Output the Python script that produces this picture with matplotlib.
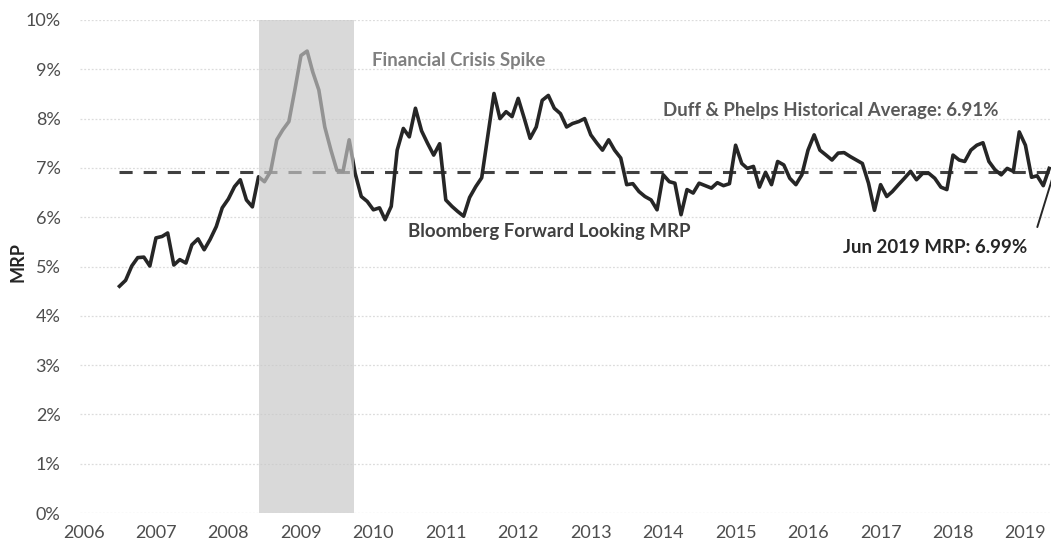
import numpy as np
import pandas as pd
import matplotlib
matplotlib.use("Agg")
import matplotlib.pyplot as plt
from matplotlib.ticker import FuncFormatter
import matplotlib.dates as mdates

# Bloomberg forward looking MRP (%), monthly from Jul 2006
mrp = [
    4.60, 4.72, 5.01, 5.18, 5.19, 5.01, 5.58, 5.61, 5.68, 5.03,
    5.14, 5.07, 5.44, 5.56, 5.34, 5.55, 5.81, 6.19, 6.37, 6.62,
    6.76, 6.35, 6.21, 6.82, 6.72, 6.93, 7.57, 7.77, 7.94, 8.58,
    9.28, 9.37, 8.95, 8.58, 7.83, 7.36, 6.95, 6.93, 7.57, 6.89,
    6.42, 6.32, 6.15, 6.19, 5.95, 6.22, 7.36, 7.80, 7.63, 8.21,
    7.75, 7.50, 7.26, 7.49, 6.35, 6.22, 6.12, 6.02, 6.40, 6.62,
    6.80, 7.65, 8.51, 8.00, 8.14, 8.04, 8.41, 8.00, 7.60, 7.83,
    8.37, 8.47, 8.21, 8.10, 7.83, 7.90, 7.94, 8.00, 7.67, 7.50,
    7.36, 7.57, 7.36, 7.20, 6.66, 6.68, 6.52, 6.42, 6.35, 6.15,
    6.86, 6.72, 6.69, 6.05, 6.56, 6.49, 6.69, 6.64, 6.59, 6.70,
    6.64, 6.68, 7.46, 7.09, 6.99, 7.03, 6.61, 6.91, 6.66, 7.13,
    7.06, 6.79, 6.66, 6.86, 7.36, 7.67, 7.36, 7.26, 7.16, 7.30,
    7.31, 7.23, 7.16, 7.09, 6.69, 6.14, 6.66, 6.42, 6.52, 6.66,
    6.79, 6.93, 6.76, 6.89, 6.89, 6.79, 6.61, 6.56, 7.26, 7.16,
    7.13, 7.36, 7.46, 7.51, 7.13, 6.96, 6.86, 6.99, 6.93, 7.73,
    7.46, 6.81, 6.84, 6.64, 6.99,
]
start_month = "2006-07-01"
dp_average = 6.91
latest_mrp = 6.99
latest_label = "Jun 2019"
crisis_window = ("2008-06-03", "2009-09-26")
y_ticks = list(range(0, 11))
years = list(range(2006, 2020))

dates = pd.date_range(start_month, periods=len(mrp), freq="MS")

plt.rcParams["font.family"] = ["Lato", "DejaVu Sans"]

fig = plt.figure(figsize=(10.51, 5.49), dpi=100)
ax = fig.add_axes([80 / 1051, 1 - 513 / 549, 971 / 1051, 493 / 549])

# MRP series and the long-run average
ax.plot(dates, mrp, color="#262626", lw=2.6, solid_joinstyle="round", zorder=3)
ax.hlines(dp_average, dates[0], dates[-1], colors="#404040", lw=2.2,
          linestyles=[(0, (4.3, 3.6))], zorder=2)

# Financial crisis window drawn as a wash over everything beneath it
ax.axvspan(pd.Timestamp(crisis_window[0]), pd.Timestamp(crisis_window[1]),
           color="#c8c8c8", alpha=0.68, lw=0, zorder=4)

ax.set_xlim(pd.Timestamp("2005-12-14"), pd.Timestamp("2019-05-10"))
ax.set_ylim(0, 10)
ax.set_yticks(y_ticks)
ax.yaxis.set_major_formatter(FuncFormatter(lambda v, _: f"{v:.0f}%"))
ax.set_xticks([pd.Timestamp(f"{y}-01-01") for y in years])
ax.xaxis.set_major_formatter(mdates.DateFormatter("%Y"))

ax.yaxis.grid(True, color="#dcdcdc", linestyle=(0, (1.5, 1.5)), lw=0.9, zorder=0)
ax.set_axisbelow(True)
for s in ax.spines.values():
    s.set_visible(False)
ax.tick_params(axis="both", length=0, labelsize=13, labelcolor="#4d4d4d")
ax.tick_params(axis="y", pad=14)
ax.tick_params(axis="x", pad=9)

fig.text(18 / 1051, 1 - 262 / 549, "MRP", rotation=90, ha="center", va="center",
         fontsize=13, fontweight="bold", color="#262626")

ax.text(pd.Timestamp("2009-12-24"), 9.18, "Financial Crisis Spike", fontsize=13.4,
        fontweight="bold", color="#808080", va="center", zorder=5)
ax.text(pd.Timestamp("2014-01-01"), 8.17,
        f"Duff & Phelps Historical Average: {dp_average:.2f}%", fontsize=13.4,
        fontweight="bold", color="#595959", va="center", zorder=5)
ax.text(pd.Timestamp("2010-06-25"), 5.71, "Bloomberg Forward Looking MRP",
        fontsize=13.4, fontweight="bold", color="#404040", va="center", zorder=5)
ax.annotate(f"{latest_label} MRP: {latest_mrp:.2f}%",
            xy=(pd.Timestamp("2019-06-01"), latest_mrp),
            xytext=(pd.Timestamp("2019-01-11"), 5.38),
            ha="right", va="center", fontsize=13.4, fontweight="bold",
            color="#262626", annotation_clip=False, zorder=5)
ax.annotate("", xy=(pd.Timestamp("2019-06-01"), latest_mrp),
            xytext=(pd.Timestamp("2019-03-02"), 5.8),
            arrowprops=dict(arrowstyle="-", color="#262626", lw=1.4,
                            shrinkA=0, shrinkB=0),
            annotation_clip=False, zorder=5)

fig.savefig("out.png", dpi=100)
